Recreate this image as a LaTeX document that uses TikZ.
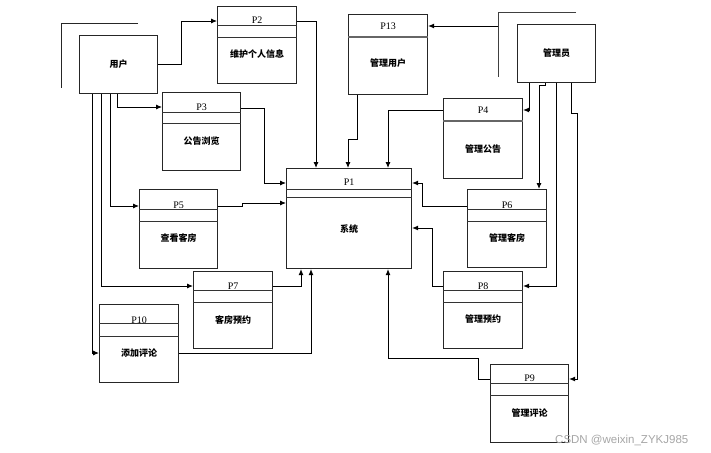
\documentclass[tikz,border=0pt]{standalone}
\usepackage{fontspec}
\setmainfont{Liberation Serif}
\newfontfamily\cjk{Noto Sans CJK SC}
\newfontfamily\wmfont{Liberation Sans}
\usetikzlibrary{arrows.meta}
\tikzset{
  boxline/.style={draw=black!85, line width=1.1pt},
  procbox/.style={boxline, rectangle, inner sep=0pt, anchor=north west},
  entbox/.style={boxline, rectangle, inner sep=0pt, anchor=north west, font=\cjk\bfseries\fontsize{9}{10}\selectfont},
  sepline/.style={draw=black!80, line width=0.9pt},
  thicksep/.style={draw=black!60, line width=2.4pt},
  ptext/.style={inner sep=0pt, font=\fontsize{10}{11}\selectfont},
  ltext/.style={inner sep=0pt, font=\cjk\bfseries\fontsize{9}{10}\selectfont},
  conn/.style={draw=black, line width=0.9pt},
  arr/.style={conn, -{Latex[length=6pt,width=5pt]}},
  wmark/.style={inner sep=0pt, text=black!35, font=\wmfont\fontsize{11.5}{13}\selectfont}
}
% #1 name, #2 left, #3 top, #4 width, #5 height, #6 P label, #7 text, #8 P text offset, #9 label offset
\newcommand\procnode[9]{%
  \node[procbox, minimum width=#4pt, minimum height=#5pt] (#1) at (#2,#3) {};
  \node[ptext] (#1p) at ([yshift=-#8pt]#1.north) {#6};
  \node[ltext] (#1l) at ([yshift=-#9pt]#1.north) {#7};
}
\newcommand\twosep[3]{% name, sep1, sep2
  \draw[sepline] ([yshift=-#2pt]#1.north west) -- ([yshift=-#2pt]#1.north east);
  \draw[sepline] ([yshift=-#3pt]#1.north west) -- ([yshift=-#3pt]#1.north east);
}
\newcommand\onesep[2]{%
  \draw[thicksep] ([yshift=-#2pt]#1.north west) -- ([yshift=-#2pt]#1.north east);
}
\begin{document}
\begin{tikzpicture}[x=1pt,y=-1pt]
\useasboundingbox (0,0) rectangle (711,452);

% external entities
\node[entbox, minimum width=78pt, minimum height=58pt] (user) at (79,35) {用户};
\node[entbox, minimum width=78pt, minimum height=58pt] (admin) at (517,24) {管理员};

% corner marks of the entities
\draw[conn, draw=black!85] (138,23) -- (61,23) -- (61,88);
\draw[conn, draw=black!75] (576,12) -- (498,12) -- (498,77);
\coordinate (adm13) at (498,26);

% processes
\procnode{p1}{286}{168}{125}{100}{P1}{系统}{14}{61}
\twosep{p1}{21}{29}
\procnode{p2}{217}{6}{79}{77}{P2}{维护个人信息}{14}{48}
\twosep{p2}{19}{31}
\procnode{p13}{348}{14}{79}{80}{P13}{管理用户}{12}{49}
\onesep{p13}{23}
\procnode{p3}{162}{92}{78}{78}{P3}{公告浏览}{15}{49}
\twosep{p3}{20}{31}
\procnode{p4}{443}{98}{79}{80}{P4}{管理公告}{12}{51}
\onesep{p4}{23}
\procnode{p5}{139}{189}{78}{79}{P5}{查看客房}{16}{49}
\twosep{p5}{20}{32}
\procnode{p6}{467}{189}{79}{78}{P6}{管理客房}{16}{49}
\twosep{p6}{20}{32}
\procnode{p7}{193}{271}{79}{77}{P7}{客房预约}{15}{49}
\twosep{p7}{19}{31}
\procnode{p8}{443}{271}{79}{77}{P8}{管理预约}{15}{48}
\twosep{p8}{19}{31}
\procnode{p10}{99}{304}{79}{78}{P10}{添加评论}{16}{49}
\twosep{p10}{19}{32}
\procnode{p9}{490}{364}{78}{78}{P9}{管理评论}{14}{49}
\twosep{p9}{19}{31}

% user side connectors
\draw[arr] (user.east) -- ++(23,0) |- ([yshift=-15pt]p2.north west);
\draw[arr] ([yshift=-15pt]p2.north east) -| ([xshift=30pt]p1.north west);
\draw[arr] ([xshift=38pt]user.south west) |- ([yshift=-15pt]p3.north west);
\draw[arr] ([yshift=-16pt]p3.north east) -- ++(23,0) |- ([yshift=-15pt]p1.north west);
\draw[arr] ([xshift=31pt]user.south west) |- ([yshift=-17pt]p5.north west);
\draw[arr] ([yshift=-17pt]p5.north east) -- ++(24,0) -- ++(0,-3) -- ([yshift=-35pt]p1.north west);
\draw[arr] ([xshift=22pt]user.south west) |- ([yshift=-15pt]p7.north west);
\draw[arr] ([yshift=-15pt]p7.north east) -| ([xshift=15pt]p1.south west);
\draw[arr] ([xshift=13pt]user.south west) |- ([yshift=-49pt]p10.north west);
\draw[arr] ([yshift=-49pt]p10.north east) -| ([xshift=25pt]p1.south west);

% admin side connectors
\draw[arr] (adm13) -- ([yshift=-12pt]p13.north east);
\draw[arr] ([xshift=9pt]p13.south west) -- ++(0,44) -| ([xshift=62pt]p1.north west);
\draw[arr] ([yshift=-12pt]p4.north west) -| ([xshift=102pt]p1.north west);
\draw[arr] ([xshift=12pt]admin.south west) |- ([yshift=-12pt]p4.north east);
\draw[arr] ([xshift=28pt]admin.south west) -- ++(0,2) -| ([xshift=72pt]p6.north west);
\draw[arr] ([xshift=39pt]admin.south west) |- ([yshift=-15pt]p8.north east);
\draw[arr] ([xshift=54pt]admin.south west) -- ++(0,30) -- ++(6,0) |- ([yshift=-15pt]p9.north east);
\draw[arr] ([yshift=-17pt]p6.north west) -- ++(-45,0) |- ([yshift=-15pt]p1.north east);
\draw[arr] ([yshift=-15pt]p8.north west) -- ++(-11,0) |- ([yshift=-60pt]p1.north east);
\draw[arr] ([yshift=-15pt]p9.north west) -- ++(-12,0) -- ++(0,-21) -| ([xshift=102pt]p1.south west);

% watermark
\node[wmark, anchor=west] (wm) at (555,440) {CSDN @weixin\_ZYKJ985};
\end{tikzpicture}
\end{document}
